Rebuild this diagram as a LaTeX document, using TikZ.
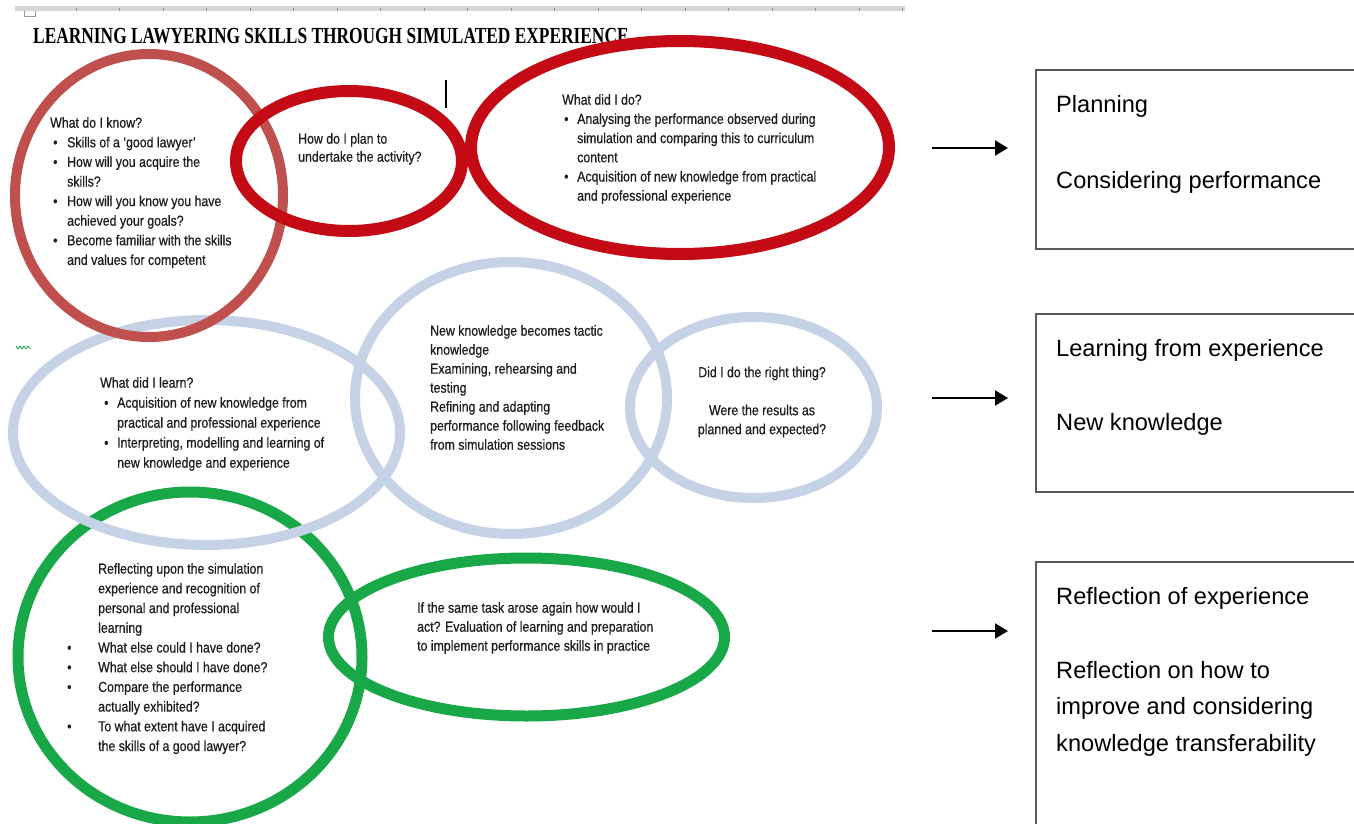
\documentclass[tikz,border=0pt]{standalone}
\usepackage{fontspec}
\setmainfont{Liberation Sans}
\newfontfamily\nfont[FakeStretch=0.85,FakeBold=0.6]{Liberation Sans}
\newfontfamily\titlefont[FakeStretch=0.755]{Liberation Serif}
\usetikzlibrary{arrows.meta}
\definecolor{redA}{RGB}{192,80,77}
\definecolor{redB}{RGB}{196,10,20}
\definecolor{blueA}{RGB}{198,211,230}
\definecolor{greenA}{RGB}{24,168,72}
\definecolor{txt}{RGB}{30,30,30}
\definecolor{boxline}{RGB}{90,90,90}
\definecolor{rulerc}{RGB}{214,214,218}
\definecolor{tickc}{RGB}{150,150,155}
\newcommand\blt[2]{\hspace*{#1}\makebox[#2][l]{•}}
\newcommand\firstln{\rule{0pt}{12pt}}
\begin{document}
\begin{tikzpicture}[x=1pt,y=-1pt,
  ringredA/.style={draw=redA,line width=10pt},
  ringredB/.style={draw=redB,line width=12pt},
  ringblue/.style={draw=blueA,line width=10pt},
  ringgreen/.style={draw=greenA,line width=11pt},
  smalltext/.style={inner sep=0pt,anchor=north west,align=left,text=txt,
    font=\nfont\fontsize{14.5}{19.2}\selectfont},
  boxnode/.style={draw=boxline,line width=2pt,minimum width=344pt,inner sep=0pt},
  boxtext/.style={inner sep=0pt,anchor=base west,text=black,
    font=\fontsize{23.6}{36.5}\selectfont},
  arr/.style={-{Triangle[length=13pt,width=15pt]},line width=2pt,black}]
\useasboundingbox (0,0) rectangle (1354,824);
\clip (0,0) rectangle (1354,824);
\fill[white] (0,0) rectangle (1354,824);

% ruler at top
\draw[rulerc,line width=5pt] (15,9) -- (905,9);
\foreach \k in {0,...,19} {\draw[tickc,line width=0.8pt] (76+43.5*\k,8) -- (76+43.5*\k,11);}
\draw[tickc,line width=0.8pt] (24,11) -- (24,16) -- (35,16) -- (35,11);

% title
\node[inner sep=0pt,anchor=base west,text=black,
  font=\titlefont\bfseries\fontsize{23}{26}\selectfont] (title) at (33,43.5)
  {LEARNING LAWYERING SKILLS THROUGH SIMULATED EXPERIENCE};

% green rings
\draw[ringgreen] (190,657) ellipse [x radius=172pt, y radius=165pt];
\draw[ringgreen] (526.5,637) ellipse [x radius=198pt, y radius=79pt];
% blue rings
\draw[ringblue] (206.5,432.5) ellipse [x radius=193.5pt, y radius=112.5pt];
\draw[ringblue] (511,398) ellipse [x radius=156pt, y radius=136pt];
\draw[ringblue] (753.5,407.5) ellipse [x radius=123.5pt, y radius=90.5pt];
% red rings
\draw[ringredA] (149,195.5) ellipse [x radius=134pt, y radius=141.5pt];
\draw[ringredB] (349,161) ellipse [x radius=113pt, y radius=70pt];
\draw[ringredB] (680,147.5) ellipse [x radius=209pt, y radius=106.5pt];

% cursor bar and squiggle
\draw[black,line width=1.5pt] (446,80) -- (446,108);
\draw[greenA,line width=0.8pt] (16,346) -- (18,349) -- (20,346) -- (22,349) -- (24,346) -- (26,349) -- (28,346) -- (30,349);

% texts in rings
\node[smalltext,font=\nfont\fontsize{14.5}{19.6}\selectfont] (tA) at (50,115.5) {\firstln What do I know?\\
\blt{3pt}{14pt}Skills of a ‘good lawyer’\\
\blt{3pt}{14pt}How will you acquire the\\
\hspace*{17pt}skills?\\
\blt{3pt}{14pt}How will you know you have\\
\hspace*{17pt}achieved your goals?\\
\blt{3pt}{14pt}Become familiar with the skills\\
\hspace*{17pt}and values for competent};

\node[smalltext,font=\nfont\fontsize{14.5}{18}\selectfont] (tB) at (298,131.5) {\firstln How do I plan to\\
undertake the activity?};

\node[smalltext] (tC) at (562,92.5) {\firstln What did I do?\\
\blt{2pt}{13pt}Analysing the performance observed during\\
\hspace*{15pt}simulation and comparing this to curriculum\\
\hspace*{15pt}content\\
\blt{2pt}{13pt}Acquisition of new knowledge from practical\\
\hspace*{15pt}and professional experience};

\node[smalltext,font=\nfont\fontsize{14.5}{20}\selectfont] (tD) at (100,375.5) {\firstln What did I learn?\\
\blt{4pt}{13pt}Acquisition of new knowledge from\\
\hspace*{17pt}practical and professional experience\\
\blt{4pt}{13pt}Interpreting, modelling and learning of\\
\hspace*{17pt}new knowledge and experience};

\node[smalltext,font=\nfont\fontsize{14.5}{19}\selectfont] (tE) at (430,323.5) {\firstln New knowledge becomes tactic\\
knowledge\\
Examining, rehearsing and\\
testing\\
Refining and adapting\\
performance following feedback\\
from simulation sessions};

\node[smalltext,anchor=north,align=center,font=\nfont\fontsize{14.5}{19}\selectfont] (tF) at (762,365) {\firstln Did I do the right thing?\\[19pt]
Were the results as\\
planned and expected?};

\node[smalltext,font=\nfont\fontsize{14.5}{19.7}\selectfont] (tG) at (67,561.5) {\hspace*{31pt}\firstln Reflecting upon the simulation\\
\hspace*{31pt}experience and recognition of\\
\hspace*{31pt}personal and professional\\
\hspace*{31pt}learning\\
\blt{0pt}{31pt}What else could I have done?\\
\blt{0pt}{31pt}What else should I have done?\\
\blt{0pt}{31pt}Compare the performance\\
\hspace*{31pt}actually exhibited?\\
\blt{0pt}{31pt}To what extent have I acquired\\
\hspace*{31pt}the skills of a good lawyer?};

\node[smalltext,font=\nfont\fontsize{14.5}{19}\selectfont] (tH) at (417,600.5) {\firstln If the same task arose again how would I\\
act? Evaluation of learning and preparation\\
to implement performance skills in practice};

% boxes
\node[boxnode,minimum height=179pt] (box1) at (1208,159.5) {};
\node[boxnode,minimum height=178pt] (box2) at (1208,402.5) {};
\node[boxnode,minimum height=338pt] (box3) at (1208,731) {};

\node[boxtext] (b1a) at (1056,113) {Planning};
\node[boxtext] (b1b) at (1056,188) {Considering performance};
\node[boxtext] (b2a) at (1056,356) {Learning from experience};
\node[boxtext] (b2b) at (1056,430) {New knowledge};
\node[boxtext] (b3a) at (1056,604) {Reflection of experience};
\node[boxtext,anchor=north west,align=left] (b3b) at (1056,660) {\rule{0pt}{18pt}Reflection on how to\\
improve and considering\\
knowledge transferability};

% arrows
\coordinate (a1s) at (932,148); \coordinate (a1e) at (1008,148);
\coordinate (a2s) at (932,398); \coordinate (a2e) at (1008,398);
\coordinate (a3s) at (932,631); \coordinate (a3e) at (1008,631);
\draw[arr] (a1s) -- (a1e);
\draw[arr] (a2s) -- (a2e);
\draw[arr] (a3s) -- (a3e);
\end{tikzpicture}
\end{document}
